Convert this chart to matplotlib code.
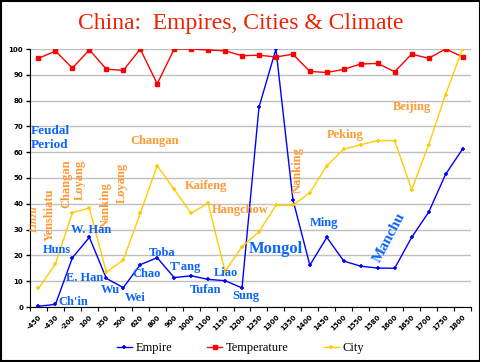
import numpy as np
import matplotlib
matplotlib.use("Agg")
import matplotlib.pyplot as plt
from matplotlib.patches import Rectangle

years = ["-450", "-430", "-200", "100", "350", "500", "620", "800", "900", "1000",
         "1100", "1150", "1200", "1250", "1300", "1350", "1400", "1450", "1500",
         "1550", "1580", "1600", "1650", "1700", "1750", "1800"]

empire = [0.3, 1.0, 19.1, 27.0, 11.1, 7.5, 16.4, 19.1, 11.4, 12.1, 10.7, 10.2, 7.4,
          77.4, 100.0, 41.6, 16.2, 27.0, 17.8, 15.8, 15.1, 15.0, 27.0, 36.7, 51.4, 61.2]
temperature = [96.4, 99.2, 92.6, 99.7, 92.2, 91.7, 100.0, 86.5, 100.0, 100.0, 99.6,
               99.3, 97.4, 97.6, 96.9, 98.0, 91.3, 90.9, 92.1, 94.2, 94.4, 91.2,
               98.0, 96.4, 100.0, 97.0]
city = [7.2, 16.7, 36.6, 38.3, 13.5, 18.2, 36.3, 54.8, 45.6, 36.4, 40.2, 13.8, 23.4,
        29.2, 39.4, 39.4, 44.3, 54.8, 61.2, 62.9, 64.5, 64.5, 45.5, 62.8, 82.3, 100.0]

# label text, x (category index), y (value)
empire_labels = [("Huns", 1.09, 22.1), ("W. Han", 3.09, 29.8), ("E. Han", 2.74, 11.2),
                 ("Ch'in", 2.03, 1.9), ("Wu", 4.26, 6.6), ("Wei", 5.68, 3.5),
                 ("Chao", 6.38, 12.8), ("Toba", 7.26, 20.9), ("T'ang", 8.68, 15.5),
                 ("Tufan", 9.85, 6.6), ("Liao", 11.03, 13.2), ("Sung", 12.21, 4.3),
                 ("Ming", 16.85, 32.6)]
city_labels = [("Changan", 5.44, 64.3), ("Kaifeng", 9.85, 46.9), ("Hangchow", 11.91, 37.6),
               ("Peking", 18.09, 66.7), ("Beijing", 22.03, 77.5)]
city_labels_rot = [("Yenshiatu", 0.68, 35.7), ("Changan", 1.62, 47.7), ("Loyang", 2.44, 49.2),
                   ("Nanking", 3.97, 39.5), ("Loyang", 4.91, 48.1), ("Nanking", 15.26, 53.1)]

blue_lbl = "#0a64ff"
orange = "#ff9933"
serif = "Liberation Serif"

fig = plt.figure(figsize=(4.81, 3.62), dpi=100)
ax = fig.add_axes([30 / 481, 1 - 307 / 362, 441 / 481, 258 / 362])

x = np.arange(len(years))
ax.plot(x, empire, color="#0000ff", lw=1, marker="+", ms=3, mew=1.2, label="Empire")
ax.plot(x, temperature, color="#ff0000", lw=1, marker="s", ms=3, label="Temperature")
ax.plot(x, city, color="#ffcc00", lw=1, marker="+", ms=3, mew=1.2, label="City")

ax.set_xlim(-0.5, len(years) - 0.5)
ax.set_ylim(0, 100)
ax.set_yticks(range(0, 101, 10))
ax.yaxis.grid(True, color="#c0c0c0", lw=1)
ax.set_axisbelow(True)
for s in ["top", "right"]:
    ax.spines[s].set_visible(False)
ax.tick_params(axis="y", labelsize=5, length=3, width=1, pad=2)
for lab in ax.get_yticklabels():
    lab.set_fontweight("bold")

ax.set_xticks(np.arange(-0.5, len(years)), labels=[])
ax.set_xticks(x, minor=True)
ax.set_xticklabels(years, minor=True, rotation=45, ha="right", rotation_mode="anchor",
                   fontsize=5, fontweight="bold")
ax.tick_params(axis="x", which="major", length=3)
ax.tick_params(axis="x", which="minor", length=0, pad=5)

ax.text(-0.44, 65.5, "Feudal\nPeriod", color=blue_lbl, family=serif, fontsize=9.5,
        fontweight="bold", ha="left", va="center", linespacing=1.2)
ax.text(-0.21, 33.7, "Linzu", color=orange, family=serif, fontsize=8, fontweight="bold",
        style="italic", rotation=90, ha="center", va="center")
for t, xi, yi in city_labels_rot:
    ax.text(xi, yi, t, color=orange, family=serif, fontsize=9, fontweight="bold",
            rotation=90, ha="center", va="center")
for t, xi, yi in city_labels:
    ax.text(xi, yi, t, color=orange, family=serif, fontsize=9, fontweight="bold",
            ha="left" if t == "Changan" else "center", va="center")
for t, xi, yi in empire_labels:
    ax.text(xi, yi, t, color=blue_lbl, family=serif, fontsize=9, fontweight="bold",
            ha="center", va="center")
ax.text(13.97, 22.5, "Mongol", color=blue_lbl, family=serif, fontsize=12, fontweight="bold",
        ha="center", va="center")
ax.text(20.68, 27.1, "Manchu", color=blue_lbl, family=serif, fontsize=11, fontweight="bold",
        rotation=62, ha="center", va="center")

fig.text(0.5, 1 - 24 / 362, "China:  Empires, Cities & Climate", color="#ee2200",
         family=serif, fontsize=17, ha="center", va="center")

fig.legend(loc="center", bbox_to_anchor=(0.5, 1 - 348 / 362), ncol=3, frameon=False,
           prop={"family": serif, "size": 9}, handlelength=1.2, columnspacing=2.8,
           handletextpad=0.3)

fig.patches.append(Rectangle((0.002, 0.003), 0.995, 0.994, transform=fig.transFigure,
                             fill=False, edgecolor="black", lw=1.5))

fig.savefig("out.png", dpi=100)
